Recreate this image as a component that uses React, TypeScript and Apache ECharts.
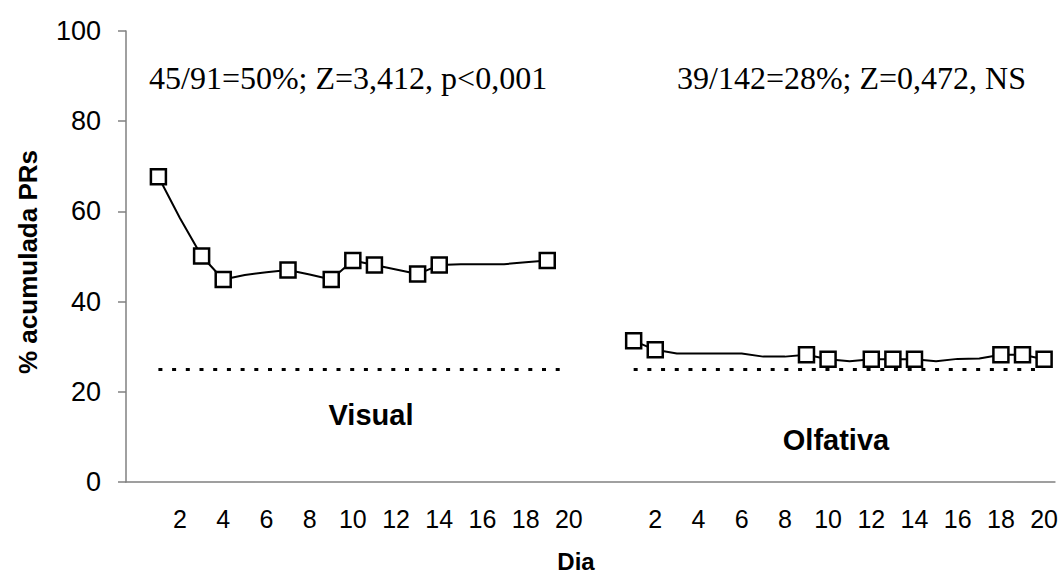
import React, { useEffect, useRef } from "react";
import * as echarts from "echarts";

// Category axis: left block days 0..20, one blank gap slot, right block days 0..20
const dayTickLabels = ["", "1", "2", "3", "4", "5", "6", "7", "8", "9", "10", "11", "12", "13", "14", "15", "16", "17", "18", "19", "20"];
const gapLabels = [""];
const tickLabels = [...dayTickLabels, ...gapLabels, ...dayTickLabels];
const rightOffset = dayTickLabels.length + gapLabels.length; // index of right block day 0

// Visual (days 1..19)
const visualDays = [1, 2, 3, 4, 5, 6, 7, 8, 9, 10, 11, 12, 13, 14, 15, 16, 17, 18, 19];
const visualValues = [67.7, 58.5, 50.1, 44.9, 45.9, 46.5, 47.0, 46.0, 44.9, 49.1, 48.1, 47.1, 46.1, 48.1, 48.3, 48.3, 48.3, 48.7, 49.1];
const visualMarkedDays = [1, 3, 4, 7, 9, 10, 11, 13, 14, 19];

// Olfativa (days 1..20)
const olfDays = [1, 2, 3, 4, 5, 6, 7, 8, 9, 10, 11, 12, 13, 14, 15, 16, 17, 18, 19, 20];
const olfValues = [31.3, 29.3, 28.5, 28.5, 28.5, 28.5, 27.8, 27.8, 28.2, 27.2, 26.8, 27.2, 27.2, 27.2, 26.8, 27.3, 27.4, 28.2, 28.2, 27.2];
const olfMarkedDays = [1, 2, 9, 10, 12, 13, 14, 18, 19, 20];

// Chance level reference line
const chanceLevel = 25;
const chanceFromDay = 1;
const chanceToDay = 20;

const yTicks = { min: 0, max: 100, interval: 20 };

const SANS = "'Liberation Sans', Arial, sans-serif";
const SERIF = "'Liberation Serif', 'Times New Roman', serif";

function buildData(days: number[], values: number[], marked: number[], offset: number) {
  return days.map((d, i) => ({
    value: [d + offset, values[i]],
    symbol: marked.includes(d) ? "rect" : "none",
  }));
}

export default function App() {
  const ref = useRef<HTMLDivElement>(null);
  useEffect(() => {
    if (!ref.current) return;
    const chart = echarts.init(ref.current, undefined, { renderer: "svg" });
    const dotted = (offset: number) => ({
      silent: true,
      symbol: "none",
      label: { show: false },
      lineStyle: { color: "#000", width: 3, type: [4, 9.7] as any },
      data: [[{ coord: [chanceFromDay + offset, chanceLevel] }, { coord: [chanceToDay + offset, chanceLevel] }]],
    });
    const lineSeries = (name: string, data: any[], markLine: any) => ({
      name,
      type: "line",
      data,
      symbolSize: 15,
      showAllSymbol: true,
      lineStyle: { color: "#000", width: 2 },
      itemStyle: { color: "#fff", borderColor: "#000", borderWidth: 2.5 },
      emphasis: { disabled: true },
      markLine,
      z: 3,
    });
    chart.setOption({
      animation: false,
      backgroundColor: "#fff",
      grid: { left: 126, right: 5, top: 31, bottom: 105 },
      xAxis: {
        type: "category",
        data: tickLabels.map((_, i) => String(i)),
        boundaryGap: true,
        axisLine: { lineStyle: { color: "#808080", width: 1.5 } },
        axisTick: { interval: 0, length: 7, lineStyle: { color: "#808080", width: 1.5 } },
        axisLabel: {
          interval: 1,
          margin: 24,
          color: "#000",
          fontSize: 25,
          fontFamily: SANS,
          formatter: (_v: string, idx: number) => tickLabels[idx],
        },
        splitLine: { show: false },
      },
      yAxis: {
        type: "value",
        min: yTicks.min,
        max: yTicks.max,
        interval: yTicks.interval,
        axisLine: { show: true, lineStyle: { color: "#808080", width: 1.5 } },
        axisTick: { show: true, length: 8, lineStyle: { color: "#808080", width: 1.5 } },
        axisLabel: { margin: 25, color: "#000", fontSize: 27, fontFamily: SANS },
        splitLine: { show: false },
      },
      series: [
        lineSeries("Visual", buildData(visualDays, visualValues, visualMarkedDays, 0), dotted(0)),
        lineSeries("Olfativa", buildData(olfDays, olfValues, olfMarkedDays, rightOffset), dotted(rightOffset)),
      ],
      graphic: [
        {
          type: "text",
          x: 149,
          y: 78,
          style: { text: "45/91=50%; Z=3,412, p<0,001", font: `32px ${SERIF}`, fill: "#000", textVerticalAlign: "middle" },
        },
        {
          type: "text",
          x: 677,
          y: 78,
          style: { text: "39/142=28%; Z=0,472, NS", font: `32px ${SERIF}`, fill: "#000", textVerticalAlign: "middle" },
        },
        {
          type: "text",
          x: 371,
          y: 415,
          style: { text: "Visual", font: `bold 29px ${SANS}`, fill: "#000", textAlign: "center", textVerticalAlign: "middle" },
        },
        {
          type: "text",
          x: 836,
          y: 440,
          style: { text: "Olfativa", font: `bold 29px ${SANS}`, fill: "#000", textAlign: "center", textVerticalAlign: "middle" },
        },
        {
          type: "text",
          x: 576,
          y: 561,
          style: { text: "Dia", font: `bold 24px ${SANS}`, fill: "#000", textAlign: "center", textVerticalAlign: "middle" },
        },
        {
          type: "text",
          x: 28,
          y: 262,
          rotation: Math.PI / 2,
          style: { text: "% acumulada PRs", font: `bold 26px ${SANS}`, fill: "#000", textAlign: "center", textVerticalAlign: "middle" },
        },
      ],
    });
    return () => chart.dispose();
  }, []);
  return <div ref={ref} style={{ position: "fixed", left: 0, top: 0, width: 1061, height: 587 }} />;
}
